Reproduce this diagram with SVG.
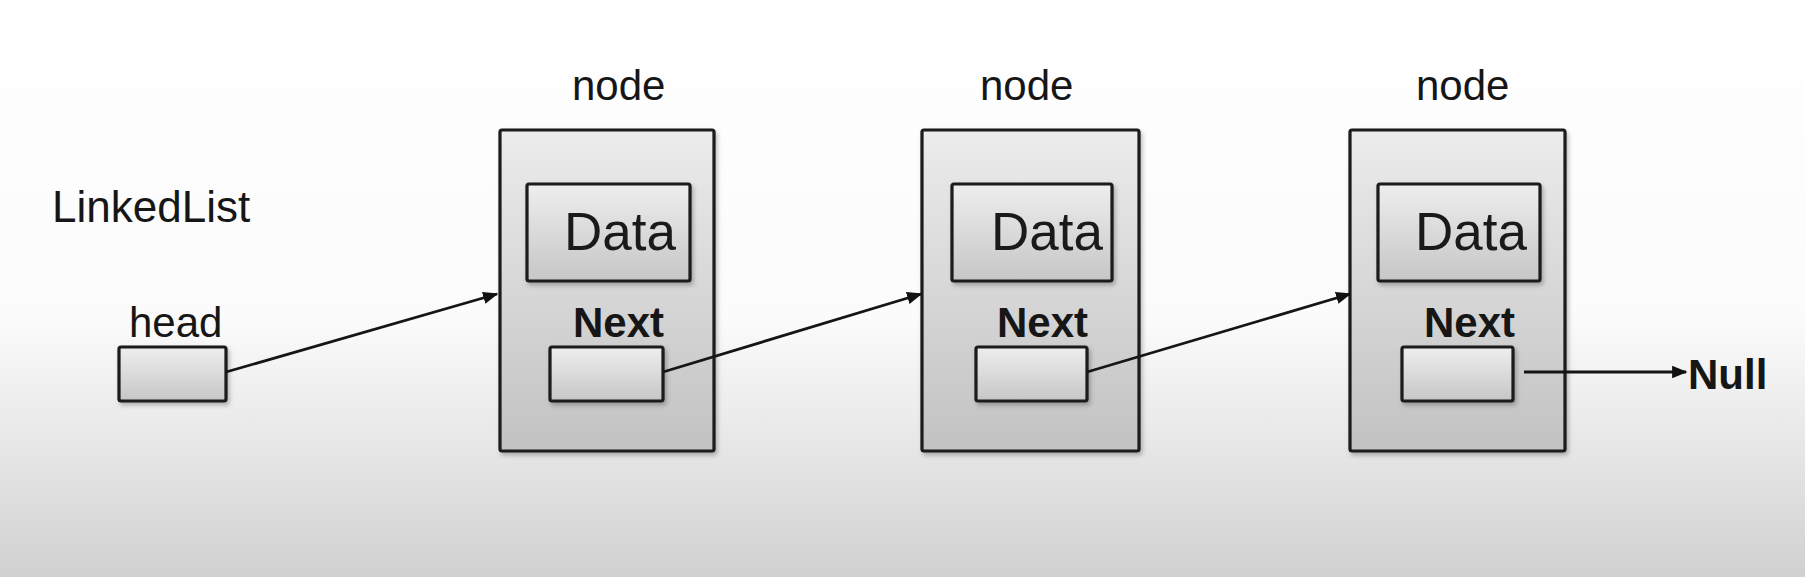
<svg xmlns="http://www.w3.org/2000/svg" width="1805" height="577" viewBox="0 0 1805 577">
  <defs>
    <linearGradient id="bg" x1="0" y1="0" x2="0" y2="1">
      <stop offset="0" stop-color="#ffffff"/>
      <stop offset="0.55" stop-color="#fbfbfb"/>
      <stop offset="0.8" stop-color="#e4e4e4"/>
      <stop offset="1" stop-color="#d0d0d0"/>
    </linearGradient>
    <linearGradient id="boxfill" x1="0" y1="0" x2="0" y2="1">
      <stop offset="0" stop-color="#ececec"/>
      <stop offset="1" stop-color="#c2c2c2"/>
    </linearGradient>
    <linearGradient id="infill" x1="0" y1="0" x2="0" y2="1">
      <stop offset="0" stop-color="#eeeeee"/>
      <stop offset="1" stop-color="#c6c6c6"/>
    </linearGradient>
    <filter id="sh" x="-10%" y="-10%" width="130%" height="130%">
      <feDropShadow dx="2" dy="3" stdDeviation="2" flood-color="#000" flood-opacity="0.25"/>
    </filter>
    <marker id="arrow" viewBox="0 0 10 10" refX="9" refY="5" markerWidth="5.5" markerHeight="5.5" orient="auto" markerUnits="strokeWidth">
      <path d="M0,1 L10,5 L0,9 z" fill="#111"/>
    </marker>
  </defs>
  <style>
    .outer { fill: url(#boxfill); stroke: #1a1a1a; stroke-width: 3.2; filter: url(#sh); }
    .inner { fill: url(#infill); stroke: #1a1a1a; stroke-width: 3.2; filter: url(#sh); }
    .lbl { font-family: "Liberation Sans", Arial, sans-serif; fill: #161616; }
    .node { font-size: 42px; }
    .data { font-size: 53px; fill: #1a1a1a; }
    .bold { font-size: 42px; font-weight: bold; }
    .conn { stroke: #151515; stroke-width: 2.8; fill: none; marker-end: url(#arrow); }
  </style>
  <rect x="0" y="0" width="1805" height="577" fill="url(#bg)"/>

  <g id="linkedlist">
    <text class="lbl" x="52" y="222" font-size="44">LinkedList</text>
  </g>

  <g id="head">
    <text class="lbl" x="129" y="337" font-size="42">head</text>
    <rect class="inner" x="119" y="347" width="107" height="54" rx="2"/>
  </g>

  <g id="node1">
    <text class="lbl node" x="572" y="100">node</text>
    <rect class="outer" x="500" y="130" width="214" height="321" rx="2"/>
    <rect class="inner" x="527" y="184" width="163" height="97" rx="2"/>
    <text class="lbl data" x="564" y="250">Data</text>
    <text class="lbl bold" x="573" y="337">Next</text>
    <rect class="inner" x="550" y="347" width="113" height="54" rx="2"/>
  </g>

  <g id="node2">
    <text class="lbl node" x="980" y="100">node</text>
    <rect class="outer" x="922" y="130" width="217" height="321" rx="2"/>
    <rect class="inner" x="952" y="184" width="160" height="97" rx="2"/>
    <text class="lbl data" x="991" y="250">Data</text>
    <text class="lbl bold" x="997" y="337">Next</text>
    <rect class="inner" x="976" y="347" width="111" height="54" rx="2"/>
  </g>

  <g id="node3">
    <text class="lbl node" x="1416" y="100">node</text>
    <rect class="outer" x="1350" y="130" width="215" height="321" rx="2"/>
    <rect class="inner" x="1378" y="184" width="162" height="97" rx="2"/>
    <text class="lbl data" x="1415" y="250">Data</text>
    <text class="lbl bold" x="1424" y="337">Next</text>
    <rect class="inner" x="1402" y="347" width="111" height="54" rx="2"/>
  </g>

  <g id="null">
    <text class="lbl bold" x="1688" y="389" font-size="38">Null</text>
  </g>

  <g id="connectors">
    <line class="conn" x1="226" y1="372" x2="497" y2="294"/>
    <line class="conn" x1="663" y1="372" x2="921" y2="294"/>
    <line class="conn" x1="1087" y1="372" x2="1350" y2="294"/>
    <line class="conn" x1="1524" y1="372" x2="1686" y2="372"/>
  </g>
</svg>
